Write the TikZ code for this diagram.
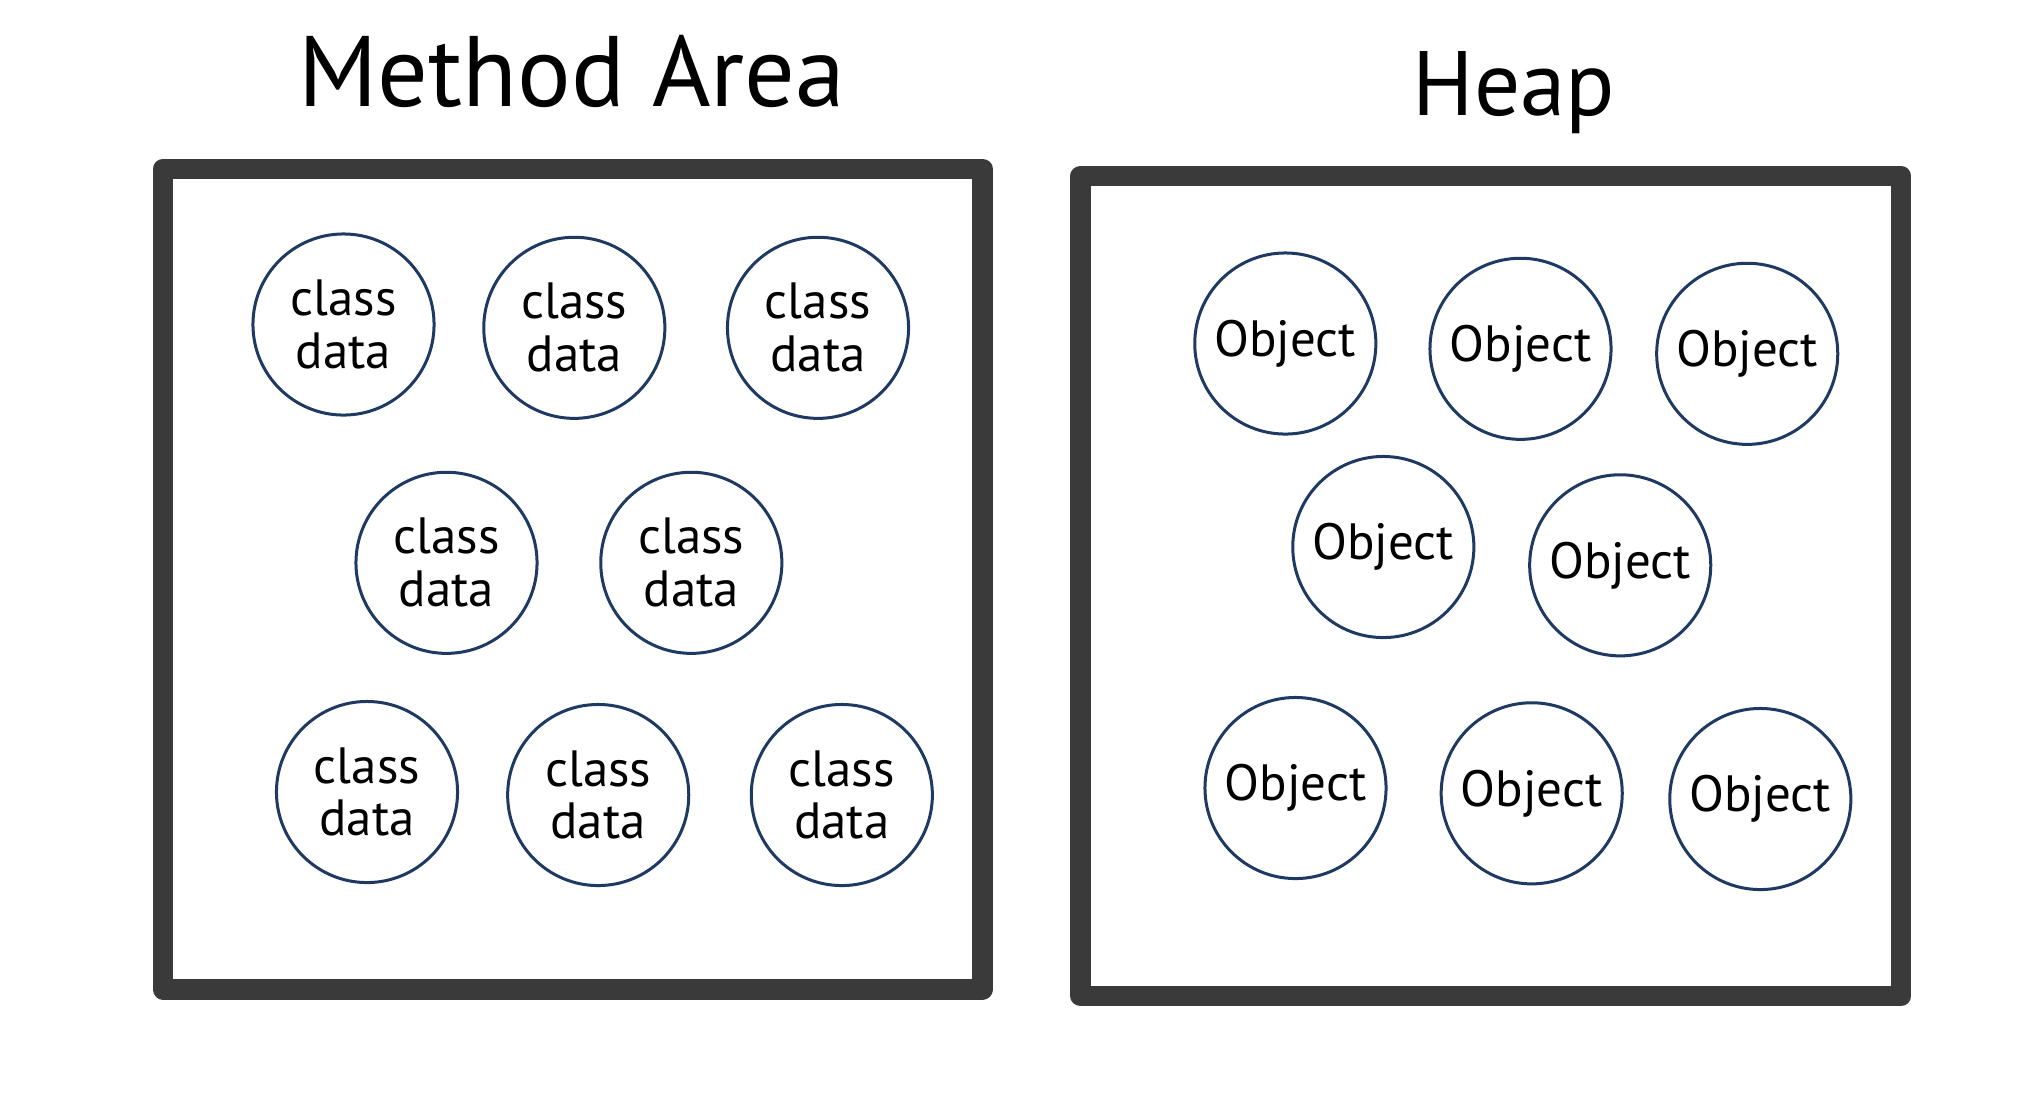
\documentclass[tikz,border=0pt]{standalone}
\usepackage{fontspec}
\setmainfont{PT Sans}
\definecolor{framegray}{RGB}{58,58,58}
\definecolor{ringblue}{RGB}{30,58,98}
\begin{document}
\begin{tikzpicture}[x=0.01cm,y=-0.01cm,
  areaframe/.style={draw=framegray,line width=0.205cm,line join=round},
  blob/.style={circle,draw=ringblue,line width=0.03cm,minimum size=1.81cm,
    inner sep=0pt,align=center,font=\fontsize{14.5}{15}\selectfont},
  heading/.style={anchor=base,font=\fontsize{26}{30}\selectfont}]
\useasboundingbox[fill=white] (0,0) rectangle (2025,1108);

% titles
\node[heading,font=\fontsize{28.5}{32}\selectfont] (tma) at (572,106) {Method Area};
\node[heading] (thp) at (1514,115) {Heap};

% the two areas
\draw[areaframe] (163,169) rectangle (982.5,989.3);
\draw[areaframe] (1080.7,176) rectangle (1901,996);

% class data in the method area
\node[blob] (c1) at (343.5,324.5) {class\\data};
\node[blob] (c2) at (574.3,327.8) {class\\data};
\node[blob] (c3) at (818,327.8) {class\\data};
\node[blob] (c4) at (446.5,562.8) {class\\data};
\node[blob] (c5) at (691.3,562.8) {class\\data};
\node[blob] (c6) at (367,792) {class\\data};
\node[blob] (c7) at (598.2,795) {class\\data};
\node[blob] (c8) at (841.8,795) {class\\data};

% objects on the heap
\node[blob] (o1) at (1285.3,343.5) {Object};
\node[blob] (o2) at (1520.5,348.8) {Object};
\node[blob] (o3) at (1747.2,353.8) {Object};
\node[blob] (o4) at (1383.3,547) {Object};
\node[blob] (o5) at (1620.2,565.3) {Object};
\node[blob] (o6) at (1295.5,788) {Object};
\node[blob] (o7) at (1531.7,793.3) {Object};
\node[blob] (o8) at (1760.3,799) {Object};
\end{tikzpicture}
\end{document}
